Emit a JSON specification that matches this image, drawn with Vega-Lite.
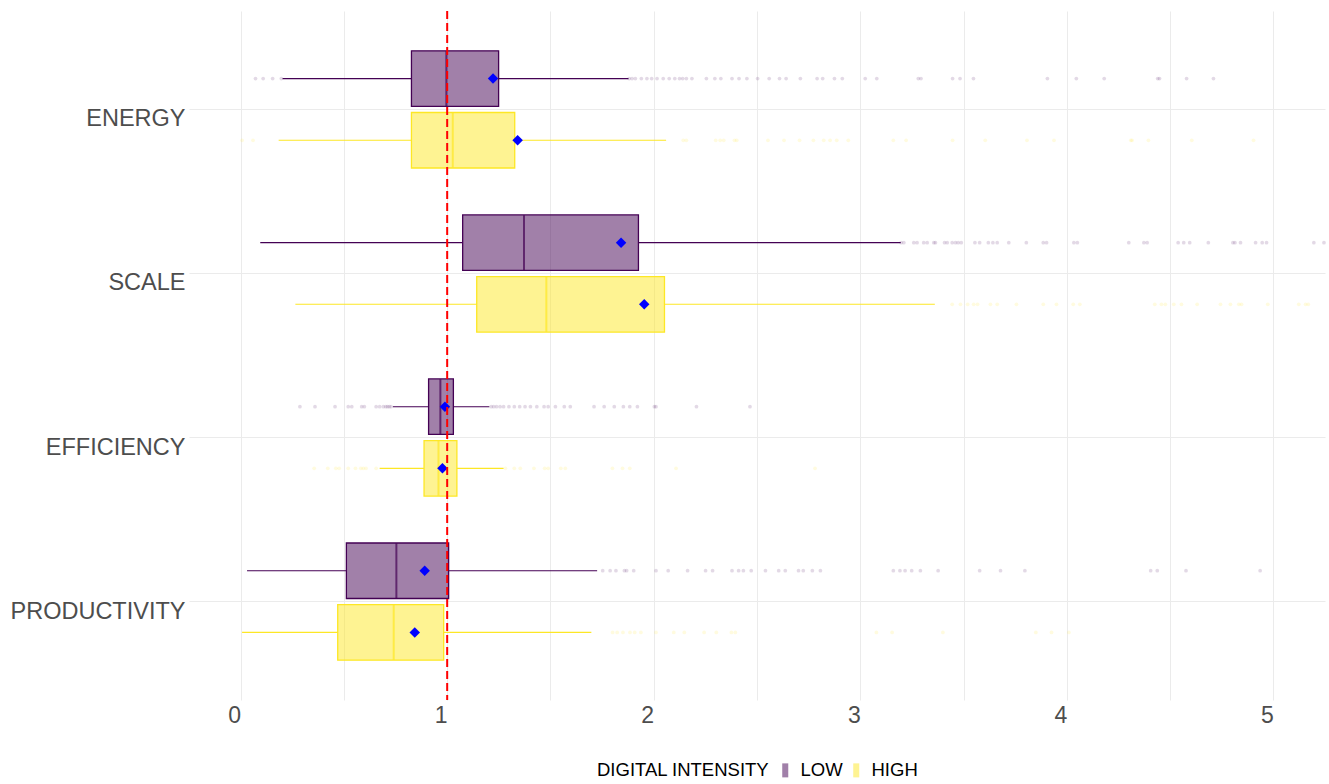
{
  "$schema": "https://vega.github.io/schema/vega-lite/v6.json",
  "width": 1136,
  "height": 689,
  "autosize": {"type": "none"},
  "padding": {"left": 189, "top": 11, "right": 4, "bottom": 84},
  "background": "white",
  "config": {"view": {"stroke": null}, "font": "Liberation Sans"},
  "datasets": {
    "stats": [
      {"category": "ENERGY", "group": "LOW", "wlo": 0.203, "q1": 0.827, "median": 0.996, "q3": 1.249, "whi": 1.878, "mean": 1.222},
      {"category": "ENERGY", "group": "HIGH", "wlo": 0.184, "q1": 0.827, "median": 1.027, "q3": 1.327, "whi": 2.060, "mean": 1.341},
      {"category": "SCALE", "group": "LOW", "wlo": 0.095, "q1": 1.075, "median": 1.372, "q3": 1.926, "whi": 3.196, "mean": 1.842},
      {"category": "SCALE", "group": "HIGH", "wlo": 0.265, "q1": 1.143, "median": 1.480, "q3": 2.052, "whi": 3.361, "mean": 1.954},
      {"category": "EFFICIENCY", "group": "LOW", "wlo": 0.737, "q1": 0.910, "median": 0.967, "q3": 1.030, "whi": 1.204, "mean": 0.989},
      {"category": "EFFICIENCY", "group": "HIGH", "wlo": 0.673, "q1": 0.888, "median": 0.958, "q3": 1.047, "whi": 1.273, "mean": 0.977},
      {"category": "PRODUCTIVITY", "group": "LOW", "wlo": 0.031, "q1": 0.512, "median": 0.754, "q3": 1.007, "whi": 1.726, "mean": 0.891},
      {"category": "PRODUCTIVITY", "group": "HIGH", "wlo": 0.007, "q1": 0.470, "median": 0.741, "q3": 0.983, "whi": 1.698, "mean": 0.843}
    ],
    "outliers": [
      {"category": "ENERGY", "group": "LOW", "value": 0.072},
      {"category": "ENERGY", "group": "LOW", "value": 0.109},
      {"category": "ENERGY", "group": "LOW", "value": 0.155},
      {"category": "ENERGY", "group": "LOW", "value": 0.197},
      {"category": "ENERGY", "group": "LOW", "value": 1.881},
      {"category": "ENERGY", "group": "LOW", "value": 1.895},
      {"category": "ENERGY", "group": "LOW", "value": 1.911},
      {"category": "ENERGY", "group": "LOW", "value": 1.940},
      {"category": "ENERGY", "group": "LOW", "value": 1.967},
      {"category": "ENERGY", "group": "LOW", "value": 1.990},
      {"category": "ENERGY", "group": "LOW", "value": 2.016},
      {"category": "ENERGY", "group": "LOW", "value": 2.046},
      {"category": "ENERGY", "group": "LOW", "value": 2.075},
      {"category": "ENERGY", "group": "LOW", "value": 2.102},
      {"category": "ENERGY", "group": "LOW", "value": 2.125},
      {"category": "ENERGY", "group": "LOW", "value": 2.140},
      {"category": "ENERGY", "group": "LOW", "value": 2.158},
      {"category": "ENERGY", "group": "LOW", "value": 2.185},
      {"category": "ENERGY", "group": "LOW", "value": 2.255},
      {"category": "ENERGY", "group": "LOW", "value": 2.296},
      {"category": "ENERGY", "group": "LOW", "value": 2.325},
      {"category": "ENERGY", "group": "LOW", "value": 2.379},
      {"category": "ENERGY", "group": "LOW", "value": 2.413},
      {"category": "ENERGY", "group": "LOW", "value": 2.451},
      {"category": "ENERGY", "group": "LOW", "value": 2.503},
      {"category": "ENERGY", "group": "LOW", "value": 2.559},
      {"category": "ENERGY", "group": "LOW", "value": 2.609},
      {"category": "ENERGY", "group": "LOW", "value": 2.641},
      {"category": "ENERGY", "group": "LOW", "value": 2.710},
      {"category": "ENERGY", "group": "LOW", "value": 2.791},
      {"category": "ENERGY", "group": "LOW", "value": 2.818},
      {"category": "ENERGY", "group": "LOW", "value": 2.875},
      {"category": "ENERGY", "group": "LOW", "value": 2.913},
      {"category": "ENERGY", "group": "LOW", "value": 3.024},
      {"category": "ENERGY", "group": "LOW", "value": 3.080},
      {"category": "ENERGY", "group": "LOW", "value": 3.281},
      {"category": "ENERGY", "group": "LOW", "value": 3.294},
      {"category": "ENERGY", "group": "LOW", "value": 3.447},
      {"category": "ENERGY", "group": "LOW", "value": 3.483},
      {"category": "ENERGY", "group": "LOW", "value": 3.548},
      {"category": "ENERGY", "group": "LOW", "value": 3.906},
      {"category": "ENERGY", "group": "LOW", "value": 4.046},
      {"category": "ENERGY", "group": "LOW", "value": 4.181},
      {"category": "ENERGY", "group": "LOW", "value": 4.440},
      {"category": "ENERGY", "group": "LOW", "value": 4.449},
      {"category": "ENERGY", "group": "LOW", "value": 4.580},
      {"category": "ENERGY", "group": "LOW", "value": 4.710},
      {"category": "ENERGY", "group": "HIGH", "value": 0.007},
      {"category": "ENERGY", "group": "HIGH", "value": 0.060},
      {"category": "ENERGY", "group": "HIGH", "value": 2.143},
      {"category": "ENERGY", "group": "HIGH", "value": 2.158},
      {"category": "ENERGY", "group": "HIGH", "value": 2.300},
      {"category": "ENERGY", "group": "HIGH", "value": 2.322},
      {"category": "ENERGY", "group": "HIGH", "value": 2.339},
      {"category": "ENERGY", "group": "HIGH", "value": 2.391},
      {"category": "ENERGY", "group": "HIGH", "value": 2.402},
      {"category": "ENERGY", "group": "HIGH", "value": 2.553},
      {"category": "ENERGY", "group": "HIGH", "value": 2.631},
      {"category": "ENERGY", "group": "HIGH", "value": 2.706},
      {"category": "ENERGY", "group": "HIGH", "value": 2.773},
      {"category": "ENERGY", "group": "HIGH", "value": 2.823},
      {"category": "ENERGY", "group": "HIGH", "value": 2.854},
      {"category": "ENERGY", "group": "HIGH", "value": 2.886},
      {"category": "ENERGY", "group": "HIGH", "value": 2.942},
      {"category": "ENERGY", "group": "HIGH", "value": 3.160},
      {"category": "ENERGY", "group": "HIGH", "value": 3.222},
      {"category": "ENERGY", "group": "HIGH", "value": 3.447},
      {"category": "ENERGY", "group": "HIGH", "value": 3.605},
      {"category": "ENERGY", "group": "HIGH", "value": 3.807},
      {"category": "ENERGY", "group": "HIGH", "value": 3.938},
      {"category": "ENERGY", "group": "HIGH", "value": 4.310},
      {"category": "ENERGY", "group": "HIGH", "value": 4.316},
      {"category": "ENERGY", "group": "HIGH", "value": 4.395},
      {"category": "ENERGY", "group": "HIGH", "value": 4.605},
      {"category": "ENERGY", "group": "HIGH", "value": 4.904},
      {"category": "SCALE", "group": "LOW", "value": 3.198},
      {"category": "SCALE", "group": "LOW", "value": 3.211},
      {"category": "SCALE", "group": "LOW", "value": 3.259},
      {"category": "SCALE", "group": "LOW", "value": 3.275},
      {"category": "SCALE", "group": "LOW", "value": 3.307},
      {"category": "SCALE", "group": "LOW", "value": 3.324},
      {"category": "SCALE", "group": "LOW", "value": 3.356},
      {"category": "SCALE", "group": "LOW", "value": 3.364},
      {"category": "SCALE", "group": "LOW", "value": 3.408},
      {"category": "SCALE", "group": "LOW", "value": 3.421},
      {"category": "SCALE", "group": "LOW", "value": 3.445},
      {"category": "SCALE", "group": "LOW", "value": 3.461},
      {"category": "SCALE", "group": "LOW", "value": 3.474},
      {"category": "SCALE", "group": "LOW", "value": 3.489},
      {"category": "SCALE", "group": "LOW", "value": 3.555},
      {"category": "SCALE", "group": "LOW", "value": 3.578},
      {"category": "SCALE", "group": "LOW", "value": 3.620},
      {"category": "SCALE", "group": "LOW", "value": 3.642},
      {"category": "SCALE", "group": "LOW", "value": 3.663},
      {"category": "SCALE", "group": "LOW", "value": 3.719},
      {"category": "SCALE", "group": "LOW", "value": 3.804},
      {"category": "SCALE", "group": "LOW", "value": 3.886},
      {"category": "SCALE", "group": "LOW", "value": 3.902},
      {"category": "SCALE", "group": "LOW", "value": 4.034},
      {"category": "SCALE", "group": "LOW", "value": 4.051},
      {"category": "SCALE", "group": "LOW", "value": 4.300},
      {"category": "SCALE", "group": "LOW", "value": 4.373},
      {"category": "SCALE", "group": "LOW", "value": 4.389},
      {"category": "SCALE", "group": "LOW", "value": 4.539},
      {"category": "SCALE", "group": "LOW", "value": 4.566},
      {"category": "SCALE", "group": "LOW", "value": 4.595},
      {"category": "SCALE", "group": "LOW", "value": 4.685},
      {"category": "SCALE", "group": "LOW", "value": 4.804},
      {"category": "SCALE", "group": "LOW", "value": 4.814},
      {"category": "SCALE", "group": "LOW", "value": 4.841},
      {"category": "SCALE", "group": "LOW", "value": 4.914},
      {"category": "SCALE", "group": "LOW", "value": 4.946},
      {"category": "SCALE", "group": "LOW", "value": 4.967},
      {"category": "SCALE", "group": "LOW", "value": 5.196},
      {"category": "SCALE", "group": "LOW", "value": 5.245},
      {"category": "SCALE", "group": "HIGH", "value": 3.445},
      {"category": "SCALE", "group": "HIGH", "value": 3.485},
      {"category": "SCALE", "group": "HIGH", "value": 3.520},
      {"category": "SCALE", "group": "HIGH", "value": 3.549},
      {"category": "SCALE", "group": "HIGH", "value": 3.568},
      {"category": "SCALE", "group": "HIGH", "value": 3.630},
      {"category": "SCALE", "group": "HIGH", "value": 3.663},
      {"category": "SCALE", "group": "HIGH", "value": 3.756},
      {"category": "SCALE", "group": "HIGH", "value": 3.886},
      {"category": "SCALE", "group": "HIGH", "value": 3.950},
      {"category": "SCALE", "group": "HIGH", "value": 4.031},
      {"category": "SCALE", "group": "HIGH", "value": 4.063},
      {"category": "SCALE", "group": "HIGH", "value": 4.426},
      {"category": "SCALE", "group": "HIGH", "value": 4.458},
      {"category": "SCALE", "group": "HIGH", "value": 4.477},
      {"category": "SCALE", "group": "HIGH", "value": 4.518},
      {"category": "SCALE", "group": "HIGH", "value": 4.555},
      {"category": "SCALE", "group": "HIGH", "value": 4.631},
      {"category": "SCALE", "group": "HIGH", "value": 4.744},
      {"category": "SCALE", "group": "HIGH", "value": 4.792},
      {"category": "SCALE", "group": "HIGH", "value": 4.833},
      {"category": "SCALE", "group": "HIGH", "value": 4.846},
      {"category": "SCALE", "group": "HIGH", "value": 4.973},
      {"category": "SCALE", "group": "HIGH", "value": 5.123},
      {"category": "SCALE", "group": "HIGH", "value": 5.156},
      {"category": "SCALE", "group": "HIGH", "value": 5.169},
      {"category": "EFFICIENCY", "group": "LOW", "value": 0.287},
      {"category": "EFFICIENCY", "group": "LOW", "value": 0.360},
      {"category": "EFFICIENCY", "group": "LOW", "value": 0.457},
      {"category": "EFFICIENCY", "group": "LOW", "value": 0.521},
      {"category": "EFFICIENCY", "group": "LOW", "value": 0.538},
      {"category": "EFFICIENCY", "group": "LOW", "value": 0.586},
      {"category": "EFFICIENCY", "group": "LOW", "value": 0.599},
      {"category": "EFFICIENCY", "group": "LOW", "value": 0.656},
      {"category": "EFFICIENCY", "group": "LOW", "value": 0.673},
      {"category": "EFFICIENCY", "group": "LOW", "value": 0.691},
      {"category": "EFFICIENCY", "group": "LOW", "value": 0.703},
      {"category": "EFFICIENCY", "group": "LOW", "value": 0.711},
      {"category": "EFFICIENCY", "group": "LOW", "value": 0.720},
      {"category": "EFFICIENCY", "group": "LOW", "value": 0.728},
      {"category": "EFFICIENCY", "group": "LOW", "value": 1.213},
      {"category": "EFFICIENCY", "group": "LOW", "value": 1.225},
      {"category": "EFFICIENCY", "group": "LOW", "value": 1.239},
      {"category": "EFFICIENCY", "group": "LOW", "value": 1.256},
      {"category": "EFFICIENCY", "group": "LOW", "value": 1.273},
      {"category": "EFFICIENCY", "group": "LOW", "value": 1.299},
      {"category": "EFFICIENCY", "group": "LOW", "value": 1.325},
      {"category": "EFFICIENCY", "group": "LOW", "value": 1.351},
      {"category": "EFFICIENCY", "group": "LOW", "value": 1.377},
      {"category": "EFFICIENCY", "group": "LOW", "value": 1.403},
      {"category": "EFFICIENCY", "group": "LOW", "value": 1.434},
      {"category": "EFFICIENCY", "group": "LOW", "value": 1.469},
      {"category": "EFFICIENCY", "group": "LOW", "value": 1.489},
      {"category": "EFFICIENCY", "group": "LOW", "value": 1.524},
      {"category": "EFFICIENCY", "group": "LOW", "value": 1.567},
      {"category": "EFFICIENCY", "group": "LOW", "value": 1.596},
      {"category": "EFFICIENCY", "group": "LOW", "value": 1.711},
      {"category": "EFFICIENCY", "group": "LOW", "value": 1.760},
      {"category": "EFFICIENCY", "group": "LOW", "value": 1.809},
      {"category": "EFFICIENCY", "group": "LOW", "value": 1.853},
      {"category": "EFFICIENCY", "group": "LOW", "value": 1.884},
      {"category": "EFFICIENCY", "group": "LOW", "value": 1.921},
      {"category": "EFFICIENCY", "group": "LOW", "value": 2.003},
      {"category": "EFFICIENCY", "group": "LOW", "value": 2.011},
      {"category": "EFFICIENCY", "group": "LOW", "value": 2.207},
      {"category": "EFFICIENCY", "group": "LOW", "value": 2.466},
      {"category": "EFFICIENCY", "group": "HIGH", "value": 0.356},
      {"category": "EFFICIENCY", "group": "HIGH", "value": 0.422},
      {"category": "EFFICIENCY", "group": "HIGH", "value": 0.461},
      {"category": "EFFICIENCY", "group": "HIGH", "value": 0.477},
      {"category": "EFFICIENCY", "group": "HIGH", "value": 0.521},
      {"category": "EFFICIENCY", "group": "HIGH", "value": 0.556},
      {"category": "EFFICIENCY", "group": "HIGH", "value": 0.582},
      {"category": "EFFICIENCY", "group": "HIGH", "value": 0.594},
      {"category": "EFFICIENCY", "group": "HIGH", "value": 0.607},
      {"category": "EFFICIENCY", "group": "HIGH", "value": 0.656},
      {"category": "EFFICIENCY", "group": "HIGH", "value": 1.282},
      {"category": "EFFICIENCY", "group": "HIGH", "value": 1.325},
      {"category": "EFFICIENCY", "group": "HIGH", "value": 1.354},
      {"category": "EFFICIENCY", "group": "HIGH", "value": 1.420},
      {"category": "EFFICIENCY", "group": "HIGH", "value": 1.472},
      {"category": "EFFICIENCY", "group": "HIGH", "value": 1.489},
      {"category": "EFFICIENCY", "group": "HIGH", "value": 1.550},
      {"category": "EFFICIENCY", "group": "HIGH", "value": 1.572},
      {"category": "EFFICIENCY", "group": "HIGH", "value": 1.800},
      {"category": "EFFICIENCY", "group": "HIGH", "value": 1.849},
      {"category": "EFFICIENCY", "group": "HIGH", "value": 1.884},
      {"category": "EFFICIENCY", "group": "HIGH", "value": 2.108},
      {"category": "EFFICIENCY", "group": "HIGH", "value": 2.781},
      {"category": "PRODUCTIVITY", "group": "LOW", "value": 1.753},
      {"category": "PRODUCTIVITY", "group": "LOW", "value": 1.789},
      {"category": "PRODUCTIVITY", "group": "LOW", "value": 1.817},
      {"category": "PRODUCTIVITY", "group": "LOW", "value": 1.858},
      {"category": "PRODUCTIVITY", "group": "LOW", "value": 1.869},
      {"category": "PRODUCTIVITY", "group": "LOW", "value": 1.903},
      {"category": "PRODUCTIVITY", "group": "LOW", "value": 2.011},
      {"category": "PRODUCTIVITY", "group": "LOW", "value": 2.070},
      {"category": "PRODUCTIVITY", "group": "LOW", "value": 2.164},
      {"category": "PRODUCTIVITY", "group": "LOW", "value": 2.251},
      {"category": "PRODUCTIVITY", "group": "LOW", "value": 2.285},
      {"category": "PRODUCTIVITY", "group": "LOW", "value": 2.379},
      {"category": "PRODUCTIVITY", "group": "LOW", "value": 2.411},
      {"category": "PRODUCTIVITY", "group": "LOW", "value": 2.434},
      {"category": "PRODUCTIVITY", "group": "LOW", "value": 2.472},
      {"category": "PRODUCTIVITY", "group": "LOW", "value": 2.541},
      {"category": "PRODUCTIVITY", "group": "LOW", "value": 2.605},
      {"category": "PRODUCTIVITY", "group": "LOW", "value": 2.637},
      {"category": "PRODUCTIVITY", "group": "LOW", "value": 2.701},
      {"category": "PRODUCTIVITY", "group": "LOW", "value": 2.724},
      {"category": "PRODUCTIVITY", "group": "LOW", "value": 2.768},
      {"category": "PRODUCTIVITY", "group": "LOW", "value": 2.807},
      {"category": "PRODUCTIVITY", "group": "LOW", "value": 3.160},
      {"category": "PRODUCTIVITY", "group": "LOW", "value": 3.192},
      {"category": "PRODUCTIVITY", "group": "LOW", "value": 3.217},
      {"category": "PRODUCTIVITY", "group": "LOW", "value": 3.249},
      {"category": "PRODUCTIVITY", "group": "LOW", "value": 3.291},
      {"category": "PRODUCTIVITY", "group": "LOW", "value": 3.377},
      {"category": "PRODUCTIVITY", "group": "LOW", "value": 3.578},
      {"category": "PRODUCTIVITY", "group": "LOW", "value": 3.679},
      {"category": "PRODUCTIVITY", "group": "LOW", "value": 3.797},
      {"category": "PRODUCTIVITY", "group": "LOW", "value": 4.406},
      {"category": "PRODUCTIVITY", "group": "LOW", "value": 4.438},
      {"category": "PRODUCTIVITY", "group": "LOW", "value": 4.577},
      {"category": "PRODUCTIVITY", "group": "LOW", "value": 4.936},
      {"category": "PRODUCTIVITY", "group": "HIGH", "value": 1.801},
      {"category": "PRODUCTIVITY", "group": "HIGH", "value": 1.823},
      {"category": "PRODUCTIVITY", "group": "HIGH", "value": 1.851},
      {"category": "PRODUCTIVITY", "group": "HIGH", "value": 1.885},
      {"category": "PRODUCTIVITY", "group": "HIGH", "value": 1.908},
      {"category": "PRODUCTIVITY", "group": "HIGH", "value": 1.938},
      {"category": "PRODUCTIVITY", "group": "HIGH", "value": 2.011},
      {"category": "PRODUCTIVITY", "group": "HIGH", "value": 2.097},
      {"category": "PRODUCTIVITY", "group": "HIGH", "value": 2.148},
      {"category": "PRODUCTIVITY", "group": "HIGH", "value": 2.244},
      {"category": "PRODUCTIVITY", "group": "HIGH", "value": 2.303},
      {"category": "PRODUCTIVITY", "group": "HIGH", "value": 2.376},
      {"category": "PRODUCTIVITY", "group": "HIGH", "value": 2.395},
      {"category": "PRODUCTIVITY", "group": "HIGH", "value": 3.078},
      {"category": "PRODUCTIVITY", "group": "HIGH", "value": 3.154},
      {"category": "PRODUCTIVITY", "group": "HIGH", "value": 3.400},
      {"category": "PRODUCTIVITY", "group": "HIGH", "value": 3.850},
      {"category": "PRODUCTIVITY", "group": "HIGH", "value": 3.926},
      {"category": "PRODUCTIVITY", "group": "HIGH", "value": 4.010}
    ]
  },
  "layer": [
    {
      "encoding": {
        "y": {
          "field": "category", "type": "nominal", "title": null,
          "sort": ["ENERGY", "SCALE", "EFFICIENCY", "PRODUCTIVITY"],
          "scale": {"domain": ["ENERGY", "SCALE", "EFFICIENCY", "PRODUCTIVITY"], "paddingInner": 0, "paddingOuter": 0.1},
          "axis": {
            "ticks": false, "domain": false, "grid": true, "gridColor": "#ebebeb", "gridWidth": 1,
            "labelFontSize": 23.5, "labelColor": "#4d4d4d", "labelPadding": 4, "labelOffset": 10, "labelFont": "Liberation Sans"
          }
        },
        "yOffset": {
          "field": "group", "type": "nominal", "sort": ["LOW", "HIGH"],
          "scale": {"domain": ["LOW", "HIGH"], "paddingInner": 0.1, "paddingOuter": 0.38}
        }
      },
      "layer": [
        {
          "data": {"name": "stats"},
          "mark": {"type": "rule", "strokeWidth": 1.1},
          "encoding": {
            "x": {
              "field": "wlo", "type": "quantitative", "title": null,
              "scale": {"domain": [-0.25, 5.25], "nice": false, "zero": false},
              "axis": {
                "values": [0, 0.5, 1, 1.5, 2, 2.5, 3, 3.5, 4, 4.5, 5],
                "labelExpr": "datum.value % 1 === 0 ? format(datum.value, 'd') : ''",
                "ticks": false, "domain": false, "grid": true, "gridColor": "#ebebeb", "gridWidth": 1,
                "labelFontSize": 23, "labelColor": "#4d4d4d", "labelPadding": 4, "labelOffset": -6.5, "labelFont": "Liberation Sans"
              }
            },
            "x2": {"field": "q1"},
            "color": {"field": "group", "type": "nominal", "title": "DIGITAL INTENSITY", "scale": {"domain": ["LOW", "HIGH"], "range": ["#440154", "#FDE725"]}}
          }
        },
        {
          "data": {"name": "stats"},
          "mark": {"type": "rule", "strokeWidth": 1.1},
          "encoding": {
            "x": {"field": "q3", "type": "quantitative", "title": null},
            "x2": {"field": "whi"},
            "color": {"field": "group", "type": "nominal", "title": "DIGITAL INTENSITY"}
          }
        },
        {
          "data": {"name": "outliers"},
          "mark": {"type": "point", "filled": true, "size": 14, "opacity": 0.15, "strokeWidth": 0},
          "encoding": {
            "x": {"field": "value", "type": "quantitative", "title": null},
            "color": {"field": "group", "type": "nominal", "title": "DIGITAL INTENSITY"}
          }
        },
        {
          "data": {"name": "stats"},
          "mark": {"type": "bar", "fillOpacity": 0.5, "strokeWidth": 1.3},
          "encoding": {
            "x": {"field": "q1", "type": "quantitative", "title": null},
            "x2": {"field": "q3"},
            "color": {
              "field": "group", "type": "nominal", "title": "DIGITAL INTENSITY",
              "legend": {
                "orient": "none", "legendX": 408, "legendY": 750, "direction": "horizontal",
                "titleOrient": "left", "titleFontSize": 18.5, "titleFontWeight": "normal", "titleColor": "#000000",
                "titleFont": "Liberation Sans", "titlePadding": 6, "titleBaseline": "middle",
                "labelFontSize": 18.5, "labelColor": "#000000", "labelFont": "Liberation Sans", "labelOffset": 6,
                "columnPadding": 4,
                "symbolType": "M-0.43,-1H0.43V1H-0.43Z", "symbolSize": 196, "symbolStrokeWidth": 0,
                "encode": {"symbols": {"update": {"opacity": {"value": 0.5}, "fillOpacity": {"value": 1}, "strokeWidth": {"value": 0}}}}
              }
            },
            "stroke": {"field": "group", "type": "nominal", "legend": null, "scale": {"domain": ["LOW", "HIGH"], "range": ["#440154", "#FDE725"]}}
          }
        },
        {
          "data": {"name": "stats"},
          "mark": {"type": "tick", "orient": "vertical", "size": 55, "thickness": 2},
          "encoding": {
            "x": {"field": "median", "type": "quantitative", "title": null},
            "color": {"field": "group", "type": "nominal", "title": "DIGITAL INTENSITY"}
          }
        },
        {
          "data": {"name": "stats"},
          "mark": {"type": "point", "shape": "diamond", "filled": true, "size": 110, "color": "#0000FF", "opacity": 1},
          "encoding": {
            "x": {"field": "mean", "type": "quantitative", "title": null}
          }
        }
      ]
    },
    {
      "data": {"values": [{}]},
      "mark": {"type": "rule", "color": "#FF0000", "strokeWidth": 2, "strokeDash": [8, 4]},
      "encoding": {"x": {"datum": 1}}
    }
  ]
}
